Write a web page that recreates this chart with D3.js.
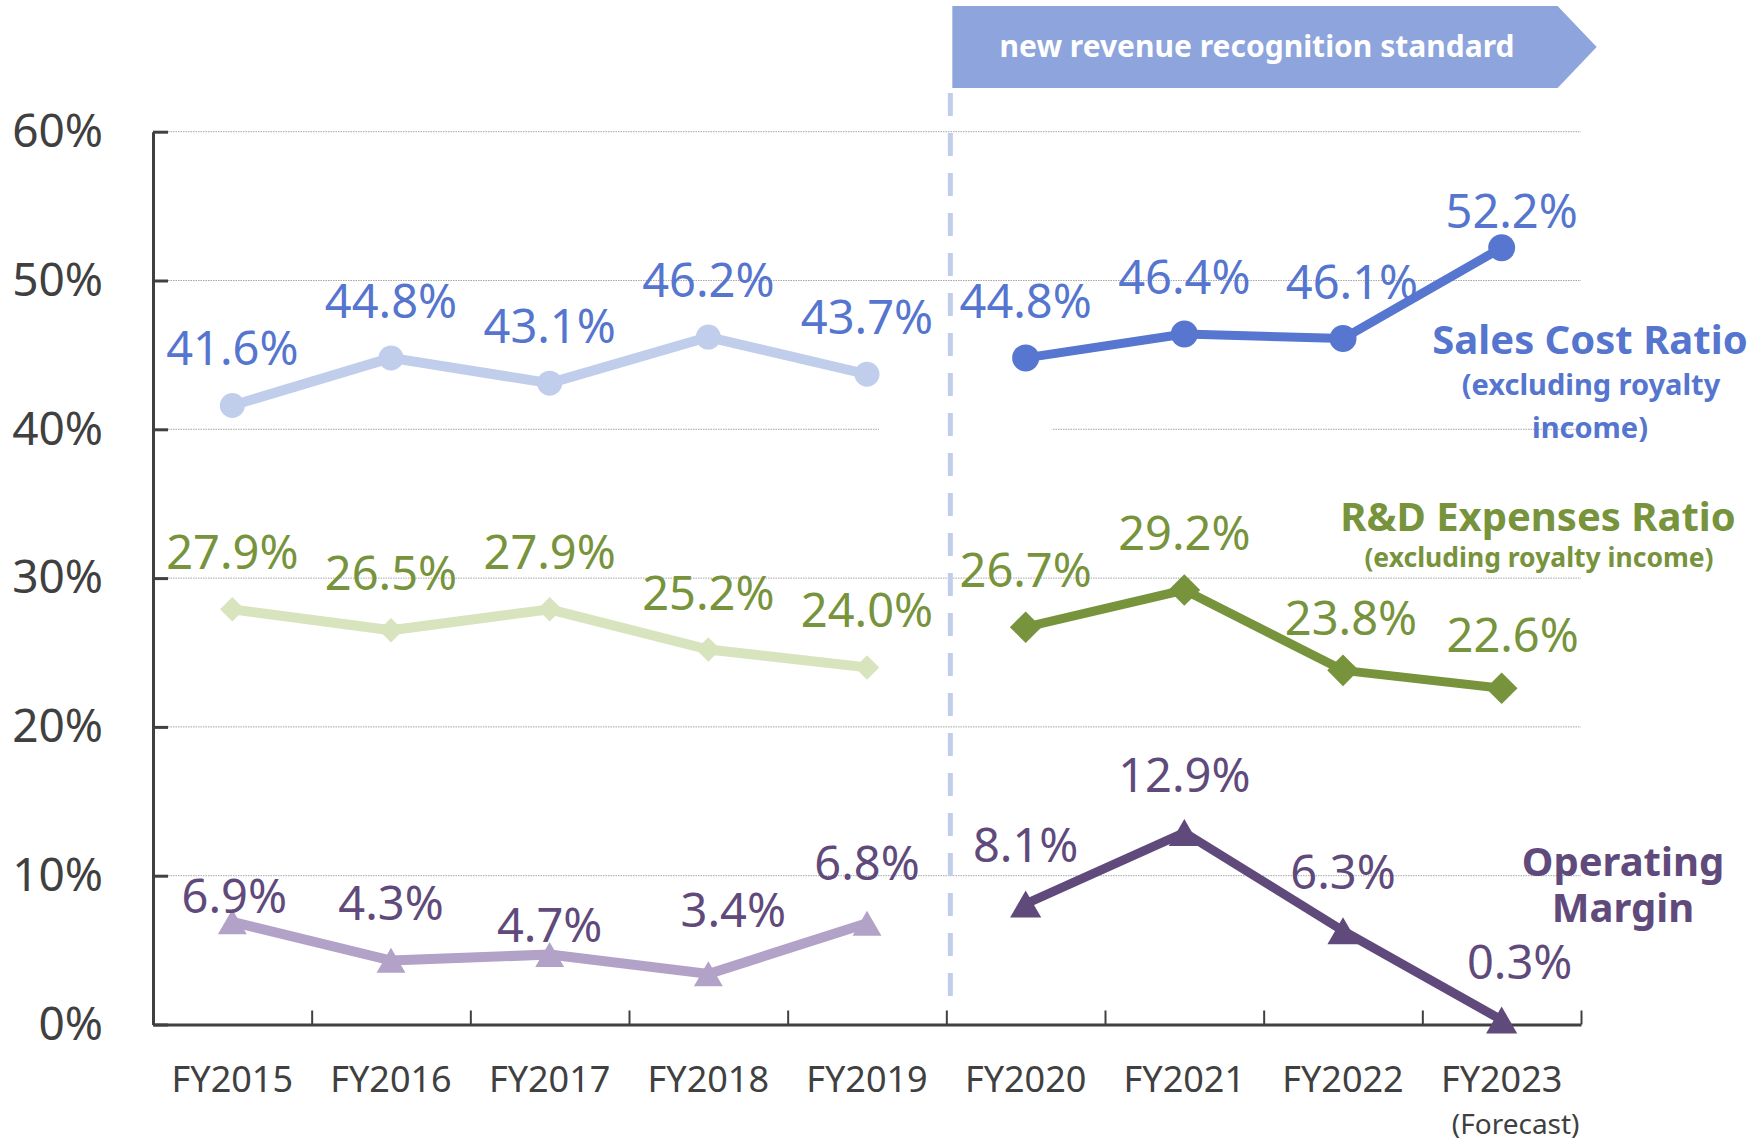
<!DOCTYPE html>
<html>
<head>
<meta charset="utf-8">
<script src="https://cdn.jsdelivr.net/npm/d3@7"></script>
<style>
  body { margin: 0; background: #fff; }
  svg { display: block; font-family: "Noto Sans", "Open Sans", sans-serif; }
</style>
</head>
<body>
<div id="chart"></div>
<script>
const categories = ['FY2015', 'FY2016', 'FY2017', 'FY2018', 'FY2019', 'FY2020', 'FY2021', 'FY2022', 'FY2023'];
const yTicks = [0, 10, 20, 30, 40, 50, 60];

// values before / after the new revenue recognition standard
const salesCostBefore = [41.6, 44.8, 43.1, 46.2, 43.7];
const salesCostAfter = [44.8, 46.4, 46.1, 52.2];
const rdBefore = [27.9, 26.5, 27.9, 25.2, 24.0];
const rdAfter = [26.7, 29.2, 23.8, 22.6];
const marginBefore = [6.9, 4.3, 4.7, 3.4, 6.8];
const marginAfter = [8.1, 12.9, 6.3, 0.3];

const width = 1752;
const height = 1141;

const margin = { top: 131.7, right: 171, bottom: 116.5, left: 153 };

const svg = d3.select('#chart')
  .append('svg')
  .attr('width', width)
  .attr('height', height);

svg.append('rect').attr('width', width).attr('height', height).attr('fill', '#fff');

const xScale = d3.scaleBand()
  .domain(categories)
  .range([margin.left, width - margin.right])
  .padding(0);

const yScale = d3.scaleLinear()
  .domain([0, 60])
  .range([height - margin.bottom, margin.top]);

const cx = (c) => xScale(c) + xScale.bandwidth() / 2;

// gridlines
svg.append('g')
  .attr('class', 'grid')
  .selectAll('line')
  .data(yTicks.filter((d) => d > 0))
  .join('line')
  .attr('x1', margin.left)
  .attr('x2', width - margin.right)
  .attr('y1', (d) => yScale(d))
  .attr('y2', (d) => yScale(d))
  .attr('stroke', '#a6a6a6')
  .attr('stroke-width', 1)
  .attr('stroke-dasharray', '1.5,1');

// white box hiding part of the 40% gridline (behind the FY2019/FY2020 labels)
svg.append('rect')
  .attr('x', cx('FY2019') + 12)
  .attr('y', yScale(40) - 3)
  .attr('width', cx('FY2020') + 26 - cx('FY2019') - 12)
  .attr('height', 6)
  .attr('fill', '#fff');

// dashed separator
const sepX = xScale('FY2020') + 4;
svg.append('line')
  .attr('x1', sepX)
  .attr('x2', sepX)
  .attr('y1', 93)
  .attr('y2', 998)
  .attr('stroke', '#c0ceec')
  .attr('stroke-width', 5)
  .attr('stroke-dasharray', '23,17');

// banner arrow
const bx0 = sepX + 2, bx1 = 1557.6, tip = 1596.7, by0 = 6, by1 = 88;
svg.append('path')
  .attr('d', `M${bx0},${by0}L${bx1},${by0}L${tip},${(by0 + by1) / 2}L${bx1},${by1}L${bx0},${by1}Z`)
  .attr('fill', '#8ea4dc');
svg.append('text')
  .attr('x', 1257)
  .attr('y', 57)
  .attr('text-anchor', 'middle')
  .attr('fill', '#fff')
  .attr('font-weight', 'bold')
  .attr('font-size', 30)
  .text('new revenue recognition standard');

// y axis
const yAxis = svg.append('g')
  .attr('transform', `translate(${margin.left},0)`)
  .call(d3.axisLeft(yScale).tickValues(yTicks).tickFormat((d) => d + '%')
    .tickSizeInner(-15).tickSizeOuter(0).tickPadding(50));
yAxis.select('.domain').attr('stroke', '#404040').attr('stroke-width', 3);
yAxis.selectAll('.tick line').attr('stroke', '#404040').attr('stroke-width', 3);
yAxis.selectAll('.tick text').attr('fill', '#404040').attr('font-size', 46)
  .attr('font-family', '"Noto Sans", sans-serif');

// x axis: boundary ticks
const xIndex = d3.scaleLinear().domain([0, categories.length]).range(xScale.range());
const xAxisTicks = svg.append('g')
  .attr('transform', `translate(0,${yScale(0)})`)
  .call(d3.axisBottom(xIndex).ticks(categories.length).tickFormat('').tickSizeInner(-14).tickSizeOuter(0));
xAxisTicks.select('.domain').attr('stroke', '#404040').attr('stroke-width', 3);
xAxisTicks.selectAll('.tick line').attr('stroke', '#404040').attr('stroke-width', 2);

// x axis: category labels
const xAxis = svg.append('g')
  .attr('transform', `translate(0,${yScale(0)})`)
  .call(d3.axisBottom(xScale).tickSize(0));
xAxis.select('.domain').remove();
xAxis.selectAll('.tick text')
  .attr('dy', null)
  .attr('y', 67.5)
  .attr('fill', '#404040')
  .attr('font-size', 36)
  .attr('font-family', '"Noto Sans", sans-serif');

svg.append('text')
  .attr('x', cx('FY2023') + 14)
  .attr('y', 1134)
  .attr('text-anchor', 'middle')
  .attr('fill', '#404040')
  .attr('font-size', 28)
  .text('(Forecast)');

// series drawing
const line = d3.line().x((d) => cx(d.cat)).y((d) => yScale(d.v));

function toPoints(values, offset) {
  return values.map((v, i) => ({ cat: categories[i + offset], v }));
}

function drawSeries(values, offset, opts) {
  const pts = toPoints(values, offset);
  const g = svg.append('g');
  g.append('path')
    .datum(pts)
    .attr('d', line)
    .attr('fill', 'none')
    .attr('stroke', opts.color)
    .attr('stroke-width', opts.lineWidth)
    .attr('stroke-linejoin', 'round');

  g.selectAll('path.marker')
    .data(pts)
    .join('path')
    .attr('class', 'marker')
    .attr('d', d3.symbol().type(opts.symbol).size(opts.size))
    .attr('transform', (d) => `translate(${cx(d.cat)},${yScale(d.v) + (opts.shiftY || 0)}) rotate(${opts.rotate || 0})`)
    .attr('fill', opts.color);

  g.selectAll('text')
    .data(pts)
    .join('text')
    .attr('x', (d, i) => cx(d.cat) + (opts.nudge[i] ? opts.nudge[i][0] : 0))
    .attr('y', (d, i) => yScale(d.v) + (opts.nudge[i] ? opts.nudge[i][1] : -40))
    .attr('text-anchor', 'middle')
    .attr('fill', opts.labelColor)
    .attr('font-size', 47)
    .text((d) => d.v.toFixed(1) + '%');
}

const blueLabel = '#5575cf';
const greenLabel = '#77933c';
const purpleLabel = '#604a7b';

drawSeries(salesCostBefore, 0, {
  color: '#c0ceec', lineWidth: 10, symbol: d3.symbolCircle, size: Math.PI * 12.5 * 12.5,
  labelColor: blueLabel, nudge: {}
});
drawSeries(salesCostAfter, 5, {
  color: '#5676cf', lineWidth: 9, symbol: d3.symbolCircle, size: Math.PI * 13.5 * 13.5,
  labelColor: blueLabel, nudge: { 2: [9, -40], 3: [10, -20] }
});
drawSeries(rdBefore, 0, {
  color: '#d7e4bd', lineWidth: 10, symbol: d3.symbolSquare, size: 300, rotate: 45,
  labelColor: greenLabel, nudge: {}
});
drawSeries(rdAfter, 5, {
  color: '#77933c', lineWidth: 9, symbol: d3.symbolSquare, size: 500, rotate: 45,
  labelColor: greenLabel, nudge: { 2: [8, -35], 3: [11, -36] }
});
drawSeries(marginBefore, 0, {
  color: '#b3a2c7', lineWidth: 10, symbol: d3.symbolTriangle, size: 361, shiftY: 4,
  labelColor: purpleLabel, nudge: { 0: [2, -9], 1: [0, -41], 2: [0, -13], 3: [25, -47], 4: [0, -43] }
});
drawSeries(marginAfter, 5, {
  color: '#604a7b', lineWidth: 9, symbol: d3.symbolTriangle, size: 421, shiftY: 4.5,
  labelColor: purpleLabel, nudge: { 0: [0, -42], 1: [0, -41], 2: [0, -42], 3: [18, -41] }
});

// series names
const names = [
  { text: 'Sales Cost Ratio', x: 1590, y: 354, size: 40, color: blueLabel },
  { text: '(excluding royalty', x: 1591, y: 395, size: 29, color: blueLabel },
  { text: 'income)', x: 1590, y: 438, size: 29, color: blueLabel },
  { text: 'R&D Expenses Ratio', x: 1538, y: 531, size: 40, color: greenLabel },
  { text: '(excluding royalty income)', x: 1539, y: 567, size: 26.5, color: greenLabel },
  { text: 'Operating', x: 1623, y: 876, size: 40, color: purpleLabel },
  { text: 'Margin', x: 1623, y: 922, size: 40, color: purpleLabel },
];
svg.append('g')
  .selectAll('text')
  .data(names)
  .join('text')
  .attr('x', (d) => d.x)
  .attr('y', (d) => d.y)
  .attr('text-anchor', 'middle')
  .attr('font-weight', 'bold')
  .attr('font-size', (d) => d.size)
  .attr('fill', (d) => d.color)
  .text((d) => d.text);
</script>
</body>
</html>
